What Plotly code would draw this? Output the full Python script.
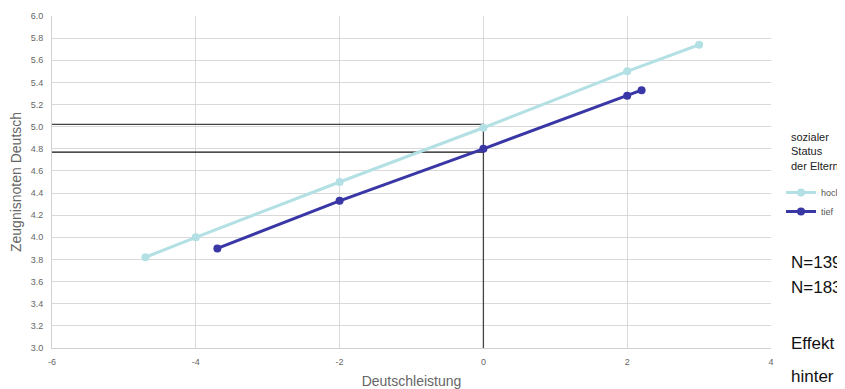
import plotly.graph_objects as go

# Data
hoch_x = [-4.7, -4.0, -2.0, 0.0, 2.0, 3.0]
hoch_y = [3.82, 4.00, 4.50, 4.99, 5.50, 5.74]
tief_x = [-3.7, -2.0, 0.0, 2.0, 2.2]
tief_y = [3.90, 4.33, 4.80, 5.28, 5.33]
ref_hoch = 5.02
ref_tief = 4.77
ref_x = 0.0
x_ticks = [-6, -4, -2, 0, 2, 4]
y_ticks = [3.0, 3.2, 3.4, 3.6, 3.8, 4.0, 4.2, 4.4, 4.6, 4.8, 5.0, 5.2, 5.4, 5.6, 5.8, 6.0]
legend_title = "sozialer<br>Status<br>der Eltern"
side_texts = ["N=139", "N=183", "Effekt", "hinter"]

X_MIN, X_MAX = -6, 4
Y_MIN, Y_MAX = 3.0, 6.0

# page offset (browser body margin)
OX, OY = 8, 8
W, H = 845 - OX, 389 - OY
L, T = 52 - OX, 16 - OY
PR, PB = 771 - OX, 348 - OY
R, B = W - PR, H - PB


def px_x(p):
    return (p - OX - L) / (PR - L)


def px_y(p):
    return 1 - (p - OY - T) / (PB - T)


fig = go.Figure()

# reference lines
fig.add_trace(go.Scatter(x=[X_MIN, ref_x, ref_x], y=[ref_hoch, ref_hoch, Y_MIN], mode="lines",
                         line=dict(color="#444444", width=1.3), showlegend=False, hoverinfo="skip"))
fig.add_trace(go.Scatter(x=[X_MIN, ref_x], y=[ref_tief, ref_tief], mode="lines",
                         line=dict(color="#111111", width=1.3), showlegend=False, hoverinfo="skip"))

fig.add_trace(go.Scatter(x=hoch_x, y=hoch_y, name="hoch", mode="lines+markers",
                         line=dict(color="#b3e0e4", width=3), marker=dict(size=8, color="#b3e0e4")))
fig.add_trace(go.Scatter(x=tief_x, y=tief_y, name="tief", mode="lines+markers",
                         line=dict(color="#3936a5", width=3), marker=dict(size=8, color="#3936a5")))

annos = [dict(text=legend_title, xref="paper", yref="paper", x=px_x(789), y=px_y(129),
              xanchor="left", yanchor="top", align="left", showarrow=False,
              font=dict(size=11, color="#222222"))]
ys = [262, 287, 343, 376]
for t, yp in zip(side_texts, ys):
    annos.append(dict(text=t, xref="paper", yref="paper", x=px_x(789),
                      y=px_y(yp), xanchor="left", yanchor="middle",
                      showarrow=False, font=dict(size=17, color="#111111")))

fig.update_layout(
    width=W, height=H,
    margin=dict(l=L, r=R, t=T, b=B, autoexpand=False),
    paper_bgcolor="white", plot_bgcolor="white",
    font=dict(family="Liberation Sans, Arial, sans-serif", color="#666666"),
    xaxis=dict(range=[X_MIN, X_MAX], tickvals=x_ticks, ticktext=[str(v) for v in x_ticks],
               showgrid=True, gridcolor="#d9d9d9", gridwidth=1, zeroline=False,
               showline=True, linecolor="#d0d0d0", linewidth=1,
               tickfont=dict(size=9, color="#666666"), ticklabelstandoff=5,
               title=dict(text="Deutschleistung", font=dict(size=14, color="#666666"), standoff=10)),
    yaxis=dict(range=[Y_MIN, Y_MAX], tickvals=y_ticks, ticktext=[f"{v:.1f}" for v in y_ticks],
               showgrid=True, gridcolor="#d9d9d9", gridwidth=1, zeroline=False,
               showline=True, linecolor="#d0d0d0", linewidth=1,
               tickfont=dict(size=9, color="#666666"), ticklabelstandoff=6,
               title=dict(text="Zeugnisnoten Deutsch", font=dict(size=14, color="#666666"), standoff=8)),
    legend=dict(x=px_x(781), y=px_y(178), xanchor="left", yanchor="top",
                font=dict(size=9, color="#555555"), itemwidth=30, tracegroupgap=0,
                bgcolor="rgba(0,0,0,0)"),
    annotations=annos,
)

fig.write_html("out.html")
